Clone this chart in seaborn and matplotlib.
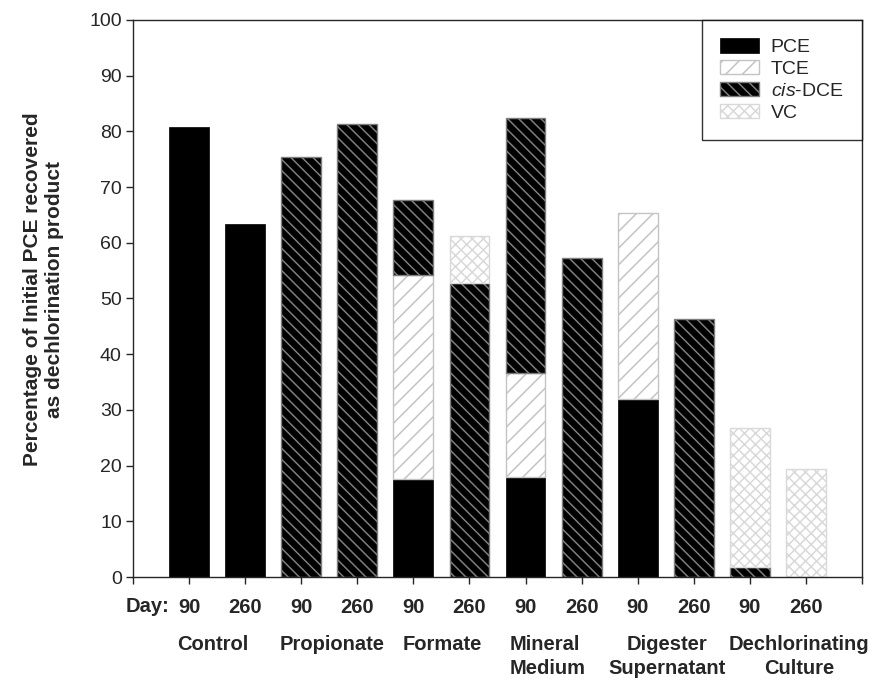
import numpy as np
import pandas as pd
import matplotlib
matplotlib.use("Agg")
import matplotlib.pyplot as plt
import seaborn as sns

# --- data (percent of initial PCE) ---
groups = ["Control", "Propionate", "Formate", "Mineral\nMedium",
          "Digester\nSupernatant", "Dechlorinating\nCulture"]
days = ["90", "260"]
samples = [f"{g.split(chr(10))[0]} {d}" for g in groups for d in days]
day_labels = days * len(groups)

pce = [80.8, 63.3, 0.0, 0.0, 17.6, 0.0, 17.9, 0.0, 31.9, 0.0, 0.0, 0.0]
tce = [0.0, 0.0, 0.0, 0.0, 36.7, 0.0, 18.8, 0.0, 33.4, 0.0, 0.0, 0.0]
cis_dce = [0.0, 0.0, 75.4, 81.3, 13.3, 52.7, 45.7, 57.3, 0.0, 46.4, 1.85, 0.0]
vc = [0.0, 0.0, 0.0, 0.0, 0.0, 8.5, 0.0, 0.0, 0.0, 0.0, 24.95, 19.3]

df = pd.DataFrame({"sample": samples, "PCE": pce, "TCE": tce,
                   "cis-DCE": cis_dce, "VC": vc})

sns.set_style("ticks")
plt.rcParams["font.family"] = ["Liberation Sans", "DejaVu Sans"]
plt.rcParams["mathtext.fontset"] = "custom"
plt.rcParams["mathtext.rm"] = "Liberation Sans"
plt.rcParams["mathtext.it"] = "Liberation Sans:italic"
plt.rcParams["hatch.linewidth"] = 1.1

fig = plt.figure(figsize=(8.76, 6.81), dpi=100)
ax = fig.add_axes([0.1518, 0.1527, 0.8322, 0.818])

# stacking styles: PCE solid black, TCE light diagonal, cis-DCE black w/ grey hatch, VC crosshatch
styles = {
    "PCE": dict(color="black", edgecolor="black", hatch=None, linewidth=0.5),
    "TCE": dict(color="white", edgecolor="#c4c4c4", hatch="//", linewidth=1.0),
    "cis-DCE": dict(color="black", edgecolor="#7e7e7e", hatch="\\\\\\", linewidth=1.0),
    "VC": dict(color="white", edgecolor="#d9d9d9", hatch="xxx", linewidth=1.0),
}
labels = {"PCE": "PCE", "TCE": "TCE", "cis-DCE": r"$\it{cis}$-DCE", "VC": "VC"}

bottom = np.zeros(len(df))
for comp in ["PCE", "TCE", "cis-DCE", "VC"]:
    vals = df[comp].values
    mask = vals > 0
    sub = df[mask]
    sns.barplot(data=sub, x="sample", y=comp, order=samples, ax=ax,
                bottom=bottom[mask], width=0.71, saturation=1, errorbar=None,
                label=labels[comp], **styles[comp])
    bottom = bottom + vals

# axes
ax.set_xlim(-1, 12)
ax.set_ylim(0, 100)
ax.set_yticks(np.arange(0, 101, 10))
ax.set_xticks(np.arange(-1, 13))
ax.set_xticklabels([""] + day_labels + [""], fontweight="bold", fontsize=14.5)
ax.tick_params(axis="y", labelsize=14, length=5, width=1, pad=3, color="#262626")
ax.tick_params(axis="x", length=5, width=1, pad=10, color="#262626")
for s in ax.spines.values():
    s.set_visible(True)
    s.set_color("#262626")
    s.set_linewidth(1.0)
ax.set_xlabel("")
ax.set_ylabel("Percentage of Initial PCE recovered\nas dechlorination product",
              fontsize=15, fontweight="bold")
ax.yaxis.set_label_coords(-0.094, 0.517)

# "Day:" prefix and group names under the day labels
ax.text(-0.34, -0.036, "Day:", transform=ax.get_xaxis_transform(),
        ha="right", va="top", fontsize=14.5, fontweight="bold")
group_x = [0.43, 2.55, 4.51, 5.72, 8.52, 10.88]
group_ha = ["center", "center", "center", "left", "center", "center"]
for gx, g, ha in zip(group_x, groups, group_ha):
    ax.text(gx, -0.104, g, transform=ax.get_xaxis_transform(), ha=ha,
            va="top", fontsize=14.5, fontweight="bold", linespacing=1.35,
            multialignment="left" if ha == "left" else "center")

leg = ax.legend(loc="upper right", borderaxespad=0, fontsize=14, frameon=True,
                fancybox=False, handlelength=2.0, handleheight=0.75,
                handletextpad=0.6, labelspacing=0.2, borderpad=0.95)
leg.get_frame().set_edgecolor("black")
leg.get_frame().set_linewidth(1.0)

fig.savefig("out.png", dpi=100)
